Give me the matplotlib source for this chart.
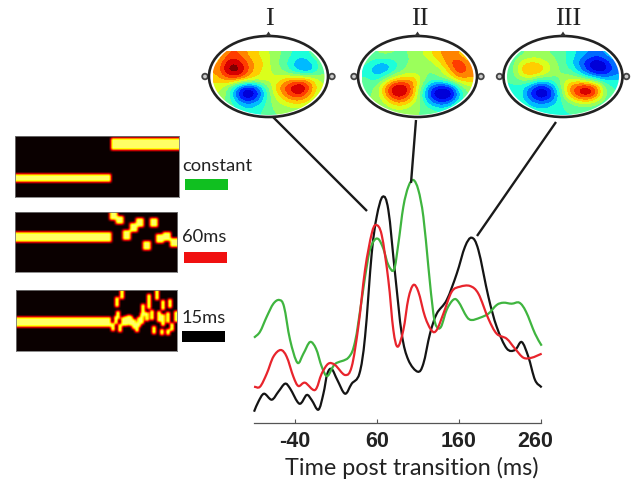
import numpy as np
from matplotlib import pyplot as plt
from matplotlib.patches import Ellipse, Polygon, Circle, Rectangle, PathPatch
from matplotlib.path import Path
from matplotlib.transforms import ScaledTranslation

W, H = 634, 479

# time course traces
t_green = [-89.6, -82.3, -74.1, -66, -58.7, -53, -45.7, -36.7, -29.4, -21.3, -14, -7, -0.2, 9.2, 25.4, 33.6, 41.7,
           49.8, 55.9, 62, 68.1, 74.2, 81.1, 86.4, 92.5, 98.6, 104.7, 110.8, 116.9, 123, 129.1, 133.2, 138.5, 145.4,
           153.5, 159.6, 169.8, 175.9, 186, 196.2, 206.3, 214.5, 224.6, 234, 242.1, 253.1, 261.2]
y_green = [85, 91, 106, 119, 122.7, 116, 83, 60, 69, 80.7, 74, 56, 46.7, 58.7, 65, 81, 122.7,
           166, 181, 183.7, 174, 157.7, 153, 179, 216, 236, 242.7, 232.7, 206, 156, 109, 96, 96, 113,
           123, 121, 106, 102.7, 105, 109, 117.7, 120, 119, 120, 111, 89, 77]
t_red = [-89.6, -82.3, -74.1, -66, -57.1, -49.8, -41.6, -35.5, -27.4, -15.2, -7.1, 1, 9.2, 21.4, 29.5, 37.6, 45.8,
         53.9, 59.2, 66.1, 74.2, 80.3, 85.6, 92.5, 98.6, 104.7, 110.8, 118.9, 127.1, 133.2, 141.3, 151.5, 161.6,
         173.8, 184, 196.2, 206.3, 218.5, 228.7, 238.9, 249, 261.2]
y_red = [36, 36, 49, 66, 72.7, 66, 46, 36.7, 40, 32.7, 49, 59, 57.7, 47.7, 56, 96, 153,
         189, 197.7, 187.7, 142.7, 92.7, 76, 92.7, 124, 137.7, 131, 106, 92, 92.7, 109, 131, 136,
         136.7, 129, 104, 89, 84, 74, 65, 65, 69]
t_black = [-89.6, -84.3, -77.4, -68, -59.9, -51.8, -45.7, -34.3, -25.4, -19.3, -11.1, -5, -0.2, 5.1, 12, 21.4, 29.5,
           38.9, 45.8, 53.9, 60, 67.3, 74.2, 82.4, 90.5, 98.6, 110, 116.9, 125, 133.2, 145.4, 157.6, 167.7, 175.9,
           184, 196.2, 206.3, 218.5, 228.7, 236.8, 244.9, 253.1, 261.2]
y_black = [11, 21, 29, 23, 31, 39, 34.3, 19, 27.7, 22.7, 13, 29, 49, 53.7, 42.7, 29, 39,
           49, 86, 169, 206, 226, 212.7, 149, 89, 62.7, 51, 59, 89, 109, 122.7, 149, 176, 185,
           172.7, 126, 96, 74.3, 72.7, 80.7, 66, 42.7, 35.3]
x_ticks = [-40, 60, 160, 260]

# scalp maps, -1 (dark blue) to 1 (dark red)
map_1 = [[.25, .55, .6, .45, .3, .25, .05, 0, -.15, -.25, -.1, 0],
         [.4, .85, .9, .65, .4, .3, .05, -.05, -.3, -.45, -.35, -.05],
         [.45, .9, 1, .7, .35, .25, .1, 0, -.2, -.4, -.4, -.05],
         [.35, .5, .55, .4, .25, .25, .15, .3, .45, .5, .35, .1],
         [.2, .05, -.4, -.8, -.65, -.2, .25, .6, .85, 1, .55, .15],
         [.15, 0, -.5, -1, -.8, -.3, .15, .4, .7, .7, .35, .1],
         [.1, 0, -.2, -.4, -.35, -.15, .05, .15, .25, .25, .15, .05],
         [0, 0, -.1, -.2, -.2, -.1, 0, 0, .05, .05, 0, 0]]
map_2 = [[0, 0, .05, 0, 0, 0, .15, .3, .45, .55, .4, .2],
         [-.1, -.3, -.35, -.25, 0, 0, 0, .1, .3, .6, .75, .45],
         [-.2, -.45, -.4, -.15, 0, .1, 0, 0, .1, .4, .75, .5],
         [-.1, -.2, .05, .35, .4, .45, .1, -.1, 0, .15, .4, .4],
         [-.05, 0, .5, .95, .95, .5, -.1, -.6, -.8, -.7, -.1, .1],
         [0, 0, .4, .85, .8, .4, -.2, -.75, -1, -.9, -.3, .05],
         [0, 0, .1, .35, .35, .15, -.05, -.35, -.5, -.35, -.05, 0],
         [0, 0, 0, .05, .05, 0, 0, -.05, -.1, -.05, 0, 0]]
map_3 = [[-.1, -.05, .05, .05, 0, -.05, -.15, -.3, -.4, -.5, -.4, -.25],
         [-.1, .25, .35, .3, .15, 0, -.2, -.4, -.7, -.95, -.8, -.45],
         [-.1, .35, .55, .45, .2, 0, -.05, -.25, -.55, -.8, -.8, -.5],
         [-.1, .05, .1, -.1, -.1, 0, .15, .15, 0, -.15, -.3, -.3],
         [-.2, -.2, -.5, -.8, -.65, -.15, .4, .75, .9, .7, 0, -.15],
         [-.15, -.2, -.6, -.95, -.8, -.3, .3, .65, .85, .6, 0, -.15],
         [-.15, -.15, -.3, -.4, -.35, -.2, -.1, .05, .1, 0, -.1, -.15],
         [-.15, -.15, -.15, -.2, -.2, -.15, -.15, -.15, -.15, -.15, -.15, -.15]]
head_labels = ["I", "II", "III"]

# stimulus panels: row of the tone per step
steps_60 = [97.7, 104.4, 111, 117.7, 124.4, 131, 137.7, 144.4, 151, 157.7]
rows_60 = [3, 8, 23, 15.7, 10.3, 33.7, 10.3, 26.3, 24.7, 30.3]
steps_15 = [105.7, 101.3, 102.3, 97.3, 104, 99.7, 107.3, 110, 112.7, 115.3, 118, 120.7, 123.3, 125.7, 126.7, 130.7,
            133.3, 135.7, 141.3, 138.3, 143.3, 147.3, 147.3, 145.7, 154, 151.7, 155.7, 152.3, 159.7]
rows_15 = [3.3, 12.3, 25, 36.7, 38.3, 30, 31.7, 31, 30, 31, 34.3, 36.7, 31.7, 28.3, 20, 26.7,
           11.7, 25, 5, 40, 26.7, 15, 30, 41.7, 13.3, 27.3, 36.7, 41.7, 26.7]
heights_15 = [10, 9, 7, 7, 7, 6, 8, 9, 9, 9, 9, 9, 9, 10, 10, 8, 14, 10, 9, 7, 10, 8, 11, 5, 8, 10, 7, 5, 10]

legend_names = ["constant", "60ms", "15ms"]
GREEN, RED, BLACK = "#3fb53f", "#e8242c", "#141414"

plt.rcParams["font.family"] = ["Lato", "DejaVu Sans"]
fig = plt.figure(figsize=(W / 100, H / 100), dpi=100)


def px_axes(x0, y0, x1, y1):
    return fig.add_axes([x0 / W, 1 - y1 / H, (x1 - x0) / W, (y1 - y0) / H])


def soften(img):
    kernel = np.array([1, 2, 3, 2, 1]) / 9
    pad = np.pad(img, 2, mode="edge")
    pad = np.apply_along_axis(lambda v: np.convolve(v, kernel, mode="same"), 0, pad)
    pad = np.apply_along_axis(lambda v: np.convolve(v, kernel, mode="same"), 1, pad)
    return pad[2:-2, 2:-2]


def stim_image(ax, rows):
    ax.imshow(soften(rows), cmap="hot", vmin=0, vmax=1.18, aspect="auto", interpolation="bilinear")
    ax.set_xticks([])
    ax.set_yticks([])
    for s in ax.spines.values():
        s.set_color("#777777")
        s.set_linewidth(0.6)


def fill(img, c0, c1, row, half):
    r0 = max(int(round(row - half)), 0)
    img[r0:int(round(row + half)), int(round(c0)):int(round(c1))] = 1


def trace(ax, t, y, color):
    # bezier through the read points, handles from the neighbouring points
    p = np.column_stack([t, y])
    d = np.gradient(p, axis=0) / 3
    verts = [p[0]]
    codes = [Path.MOVETO]
    for i in range(len(p) - 1):
        verts += [p[i] + d[i], p[i + 1] - d[i + 1], p[i + 1]]
        codes += [Path.CURVE4] * 3
    ax.add_patch(PathPatch(Path(verts, codes), fill=False, ec=color, lw=1.6, clip_on=False))


# stimulus panels
img = np.zeros((61, 164))
fill(img, 0, 96, 42, 4)
fill(img, 96, 164, 8, 6)
stim_image(px_axes(15, 136, 179, 197), img)

img = np.zeros((60, 162))
fill(img, 0, 96, 25, 5)
for s, r in zip(steps_60, rows_60):
    fill(img, s - 4, s + 4, r, 4.5)
stim_image(px_axes(15, 212, 177, 272), img)

img = np.zeros((61, 161))
fill(img, 0, 95, 32, 5)
for s, r, h in zip(steps_15, rows_15, heights_15):
    fill(img, s - 2, s + 2, r, h / 2 + 0.5)
stim_image(px_axes(16, 290, 177, 351), img)

# traces
ax = px_axes(253.7, 170, 540.7, 422.7)
trace(ax, t_black, y_black, BLACK)
trace(ax, t_green, y_green, GREEN)
trace(ax, t_red, y_red, RED)
ax.set_xlim(-90, 260)
ax.set_ylim(0, 252.7)
ax.patch.set_alpha(0)
for s in ["top", "left", "right"]:
    ax.spines[s].set_visible(False)
ax.spines["bottom"].set_color("#555555")
ax.spines["bottom"].set_linewidth(0.9)
ax.set_yticks([])
ax.set_xticks(x_ticks)
ax.set_xticklabels(x_ticks, fontfamily="Liberation Sans", fontweight="bold", fontsize=15.5, color="#222222")
ax.tick_params(axis="x", direction="in", length=3, width=0.8, color="#555555", pad=6)
last = ax.get_xticklabels()[-1]
last.set_transform(last.get_transform() + ScaledTranslation(-6 / 100, 0, fig.dpi_scale_trans))
ax.set_xlabel("Time post transition (ms)", fontsize=16.8, color="#222222")
ax.xaxis.set_label_coords((411.5 - 253.7) / 287, -0.136)

# heads, connectors and legend are placed on a full figure layer
over = fig.add_axes([0, 0, 1, 1])
over.patch.set_alpha(0)
over.axis("off")

head_x = [268.5, 417.5, 563]
label_x = [269, 420, 568]
jet = plt.get_cmap("jet", 14)
for cx, lx, m, lab in zip(head_x, label_x, [map_1, map_2, map_3], head_labels):
    im = over.imshow(m, cmap=jet, vmin=-1, vmax=1, extent=(cx - 56, cx + 56, 116, 51), aspect="auto",
                     interpolation="bicubic", interpolation_stage="data")
    clip = Ellipse((cx, 76.5), 112, 77, transform=over.transData)
    im.set_clip_path(clip)
    over.add_patch(Ellipse((cx, 76.5), 119, 81, fill=False, ec="#222222", lw=1.9, zorder=5))
    over.add_patch(Polygon([(cx - 3, 36), (cx + 3, 36), (cx, 31.5)], fc="#333333", ec="none", zorder=5))
    for ex in [cx - 63.5, cx + 63.5]:
        over.add_patch(Circle((ex, 76.5), 2.8, fc="#cccccc", ec="#444444", lw=1.3, zorder=4))
    over.text(lx, 19, lab, family="Liberation Serif", fontsize=19, color="#222222", ha="center", va="center")

for x0, y0, x1, y1 in [(273, 117, 367, 211), (416, 120, 411, 183), (556, 122, 477, 236)]:
    over.plot([x0, x1], [y0, y1], color="#1a1a1a", lw=1.7, solid_capstyle="butt")

for name, tx, ty, col, bx, by in [(legend_names[0], 182, 166, "#10c020", 185, 179),
                                  (legend_names[1], 182, 237, "#f01010", 184, 252),
                                  (legend_names[2], 182, 318, "#000000", 182, 331)]:
    over.text(tx, ty, name, fontsize=13.2, color="#222222", ha="left", va="center")
    over.add_patch(Rectangle((bx, by), 43, 11, fc=col, ec="none"))

over.set_xlim(0, W)
over.set_ylim(H, 0)

plt.savefig("out.png", dpi=100)
